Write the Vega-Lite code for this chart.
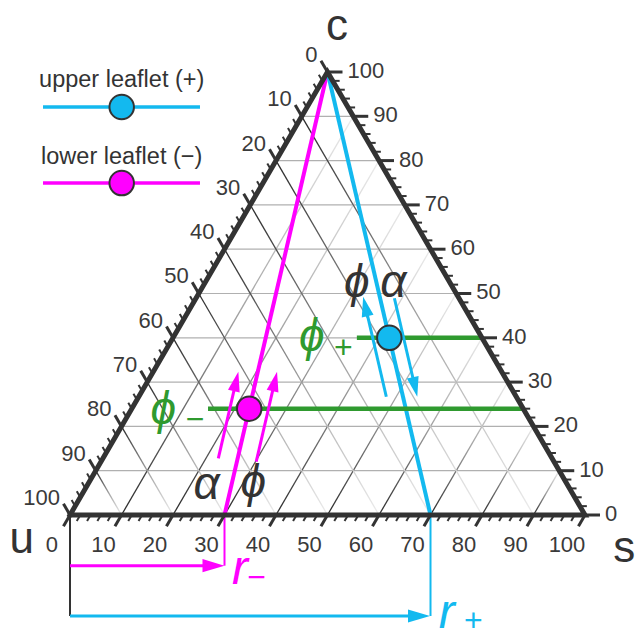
{
  "$schema": "https://vega.github.io/schema/vega-lite/v6.json",
  "width": 635,
  "height": 640,
  "padding": 0,
  "autosize": {"type": "none"},
  "background": "white",
  "config": {"view": {"stroke": null}, "font": "Liberation Sans"},
  "datasets": {
    "grid": [
      {"f":"c","s":0,"c":10,"s2":90,"c2":10},{"f":"c","s":0,"c":20,"s2":80,"c2":20},{"f":"c","s":0,"c":30,"s2":70,"c2":30},
      {"f":"c","s":0,"c":40,"s2":60,"c2":40},{"f":"c","s":0,"c":50,"s2":50,"c2":50},{"f":"c","s":0,"c":60,"s2":40,"c2":60},
      {"f":"c","s":0,"c":70,"s2":30,"c2":70},{"f":"c","s":0,"c":80,"s2":20,"c2":80},{"f":"c","s":0,"c":90,"s2":10,"c2":90},
      {"f":"s","s":10,"c":0,"s2":10,"c2":90},{"f":"s","s":20,"c":0,"s2":20,"c2":80},{"f":"s","s":30,"c":0,"s2":30,"c2":70},
      {"f":"s","s":40,"c":0,"s2":40,"c2":60},{"f":"s","s":50,"c":0,"s2":50,"c2":50},{"f":"s","s":60,"c":0,"s2":60,"c2":40},
      {"f":"s","s":70,"c":0,"s2":70,"c2":30},{"f":"s","s":80,"c":0,"s2":80,"c2":20},{"f":"s","s":90,"c":0,"s2":90,"c2":10},
      {"f":"u","s":0,"c":90,"s2":90,"c2":0},{"f":"u","s":0,"c":80,"s2":80,"c2":0},{"f":"u","s":0,"c":70,"s2":70,"c2":0},
      {"f":"u","s":0,"c":60,"s2":60,"c2":0},{"f":"u","s":0,"c":50,"s2":50,"c2":0},{"f":"u","s":0,"c":40,"s2":40,"c2":0},
      {"f":"u","s":0,"c":30,"s2":30,"c2":0},{"f":"u","s":0,"c":20,"s2":20,"c2":0},{"f":"u","s":0,"c":10,"s2":10,"c2":0}
    ],
    "tk": [
      {"v":0,"m":1},{"v":2,"m":0},{"v":4,"m":0},{"v":6,"m":0},{"v":8,"m":0},
      {"v":10,"m":1},{"v":12,"m":0},{"v":14,"m":0},{"v":16,"m":0},{"v":18,"m":0},
      {"v":20,"m":1},{"v":22,"m":0},{"v":24,"m":0},{"v":26,"m":0},{"v":28,"m":0},
      {"v":30,"m":1},{"v":32,"m":0},{"v":34,"m":0},{"v":36,"m":0},{"v":38,"m":0},
      {"v":40,"m":1},{"v":42,"m":0},{"v":44,"m":0},{"v":46,"m":0},{"v":48,"m":0},
      {"v":50,"m":1},{"v":52,"m":0},{"v":54,"m":0},{"v":56,"m":0},{"v":58,"m":0},
      {"v":60,"m":1},{"v":62,"m":0},{"v":64,"m":0},{"v":66,"m":0},{"v":68,"m":0},
      {"v":70,"m":1},{"v":72,"m":0},{"v":74,"m":0},{"v":76,"m":0},{"v":78,"m":0},
      {"v":80,"m":1},{"v":82,"m":0},{"v":84,"m":0},{"v":86,"m":0},{"v":88,"m":0},
      {"v":90,"m":1},{"v":92,"m":0},{"v":94,"m":0},{"v":96,"m":0},{"v":98,"m":0},
      {"v":100,"m":1}
    ],
    "lab": [{"v":0},{"v":10},{"v":20},{"v":30},{"v":40},{"v":50},{"v":60},{"v":70},{"v":80},{"v":90},{"v":100}],
    "lines": [
      {"leaf":"lower","s":0,"c":100,"s2":30,"c2":0},
      {"leaf":"upper","s":0,"c":100,"s2":70,"c2":0}
    ],
    "phi": [
      {"leaf":"upper","s":35.7,"c":40,"s2":60,"c2":40},
      {"leaf":"lower","s":14.8,"c":24,"s2":76,"c2":24}
    ],
    "dots": [{"leaf":"upper","s":42,"c":40},{"leaf":"lower","s":22.8,"c":24}],
    "border": [{"s":0,"c":0,"o":0},{"s":100,"c":0,"o":1},{"s":0,"c":100,"o":2},{"s":0,"c":0,"o":3}],
    "drop": [
      {"leaf":"axis","x":0,"y":0,"xe":0,"ye":-22.8},
      {"leaf":"lower","x":30,"y":0,"xe":30,"ye":-11.44},
      {"leaf":"upper","x":70,"y":0,"xe":70,"ye":-22.8}
    ],
    "rarrow": [
      {"leaf":"lower","x":0,"y":-11.44,"xe":27.86,"ye":-11.44},
      {"leaf":"upper","x":0,"y":-22.8,"xe":67.77,"ye":-22.8}
    ],
    "arrows": [
      {"leaf":"lower","dir":"up","x":28.80,"y":12.80,"xe":32.25,"ye":30.16},
      {"leaf":"lower","dir":"up","x":36.16,"y":12.03,"xe":39.77,"ye":30.16},
      {"leaf":"upper","dir":"up","x":61.42,"y":26.70,"xe":57.36,"ye":47.09},
      {"leaf":"upper","dir":"down","x":62.99,"y":48.92,"xe":66.99,"ye":28.90}
    ],
    "corner": [{"x":51.84,"y":110.16,"t":"c"},{"x":-9.38,"y":-5.64,"t":"u"},{"x":107.6,"y":-7.6,"t":"s"}],
    "greek": [{"x":55.67,"y":52.30,"t":"ϕ"},{"x":62.78,"y":52.37,"t":"α"},{"x":26.54,"y":6.77,"t":"α"},{"x":35.59,"y":7.16,"t":"ϕ"}],
    "gphi": [{"x":46.93,"y":40.25,"t":"ϕ"},{"x":18.12,"y":23.70,"t":"ϕ"}],
    "gsub": [{"x":53.07,"y":37.63,"t":"+"},{"x":24.27,"y":21.44,"t":"−"}],
    "rlab": [{"leaf":"lower","x":33.01,"y":-12.42,"t":"r"},{"leaf":"upper","x":73.15,"y":-22.4,"t":"r"}],
    "rsub": [{"leaf":"lower","x":36.25,"y":-14.22,"t":"−"},{"leaf":"upper","x":78.31,"y":-23.9,"t":"+"}],
    "legtext": [{"x":10.04,"y":98.19,"t":"upper leaflet (+)"},{"x":10.04,"y":80.81,"t":"lower leaflet (−)"}],
    "legline": [{"leaf":"upper","x":-5.24,"xe":25.24,"y":92.10},{"leaf":"lower","x":-5.24,"xe":25.24,"y":74.94}],
    "legdot": [{"leaf":"upper","x":10.04,"y":92.10},{"leaf":"lower","x":10.04,"y":74.94}]
  },
  "encoding": {
    "x": {"field": "x", "type": "quantitative", "scale": {"domain": [-13.592, 109.709], "nice": false, "zero": false}, "axis": null},
    "y": {"field": "y", "type": "quantitative", "scale": {"domain": [-28.217, 116.253], "nice": false, "zero": false}, "axis": null}
  },
  "layer": [
    {
      "data": {"name": "grid"},
      "transform": [{"filter": "datum.f == 'c'"},{"calculate": "datum.s + datum.c/2", "as": "x"},{"calculate": "datum.c", "as": "y"},{"calculate": "datum.s2 + datum.c2/2", "as": "xe"},{"calculate": "datum.c2", "as": "ye"}],
      "mark": {"type": "rule", "stroke": "#b0b0b0", "strokeWidth": 1.2},
      "encoding": {"x2": {"field": "xe"}, "y2": {"field": "ye"}}
    },
    {
      "data": {"name": "grid"},
      "transform": [{"filter": "datum.f == 's'"},{"calculate": "datum.s + datum.c/2", "as": "x"},{"calculate": "datum.c", "as": "y"},{"calculate": "datum.s2 + datum.c2/2", "as": "xe"},{"calculate": "datum.c2", "as": "ye"}],
      "mark": {"type": "rule", "strokeWidth": 1.3, "stroke": {"gradient": "linear", "x1": 0, "y1": 1, "x2": 1, "y2": 0, "stops": [{"offset": 0, "color": "#2a2a2a"}, {"offset": 0.5, "color": "#a0a0a0"}, {"offset": 1, "color": "#ececec"}]}},
      "encoding": {"x2": {"field": "xe"}, "y2": {"field": "ye"}}
    },
    {
      "data": {"name": "grid"},
      "transform": [{"filter": "datum.f == 'u'"},{"calculate": "datum.s + datum.c/2", "as": "x"},{"calculate": "datum.c", "as": "y"},{"calculate": "datum.s2 + datum.c2/2", "as": "xe"},{"calculate": "datum.c2", "as": "ye"}],
      "mark": {"type": "rule", "strokeWidth": 1.3, "stroke": {"gradient": "linear", "x1": 0, "y1": 0, "x2": 1, "y2": 1, "stops": [{"offset": 0, "color": "#2a2a2a"}, {"offset": 0.5, "color": "#a0a0a0"}, {"offset": 1, "color": "#ececec"}]}},
      "encoding": {"x2": {"field": "xe"}, "y2": {"field": "ye"}}
    },
    {
      "data": {"name": "lines"},
      "transform": [{"calculate": "datum.s + datum.c/2", "as": "x"},{"calculate": "datum.c", "as": "y"},{"calculate": "datum.s2 + datum.c2/2", "as": "xe"},{"calculate": "datum.c2", "as": "ye"}],
      "mark": {"type": "rule", "strokeWidth": 4},
      "encoding": {"x2": {"field": "xe"}, "y2": {"field": "ye"},
        "color": {"field": "leaf", "type": "nominal", "scale": {"domain": ["upper","lower","axis"], "range": ["#13b9ef","#ff00ff","#333333"]}, "legend": null}}
    },
    {
      "data": {"name": "drop"},
      "mark": {"type": "rule", "strokeWidth": 2},
      "encoding": {"x2": {"field": "xe"}, "y2": {"field": "ye"},
        "color": {"field": "leaf", "type": "nominal", "legend": null}}
    },
    {
      "data": {"name": "rarrow"},
      "mark": {"type": "rule", "strokeWidth": 3},
      "encoding": {"x2": {"field": "xe"}, "y2": {"field": "ye"},
        "color": {"field": "leaf", "type": "nominal", "legend": null}}
    },
    {
      "data": {"name": "phi"},
      "transform": [{"calculate": "datum.s + datum.c/2", "as": "x"},{"calculate": "datum.c", "as": "y"},{"calculate": "datum.s2 + datum.c2/2", "as": "xe"},{"calculate": "datum.c2", "as": "ye"}],
      "mark": {"type": "rule", "strokeWidth": 4.5, "stroke": "#2f9a2f"},
      "encoding": {"x2": {"field": "xe"}, "y2": {"field": "ye"}}
    },
    {
      "data": {"name": "border"},
      "transform": [{"calculate": "datum.s + datum.c/2", "as": "x"},{"calculate": "datum.c", "as": "y"}],
      "mark": {"type": "line", "strokeWidth": 5, "color": "#333333", "strokeJoin": "miter", "strokeCap": "square"},
      "encoding": {"order": {"field": "o", "type": "quantitative"}}
    },
    {
      "data": {"name": "tk"},
      "transform": [{"filter": "datum.m == 1"},{"calculate": "datum.v", "as": "x"},{"calculate": "0", "as": "y"}],
      "mark": {"type": "point", "shape": "M0,0L-0.503,0.864", "filled": false, "stroke": "#333333", "strokeWidth": 3, "size": 676, "opacity": 1}
    },
    {
      "data": {"name": "tk"},
      "transform": [{"filter": "datum.m == 0"},{"calculate": "datum.v", "as": "x"},{"calculate": "0", "as": "y"}],
      "mark": {"type": "point", "shape": "M0,0L-0.503,0.864", "filled": false, "stroke": "#333333", "strokeWidth": 2, "size": 196, "opacity": 1}
    },
    {
      "data": {"name": "tk"},
      "transform": [{"filter": "datum.m == 1"},{"calculate": "100 - datum.v/2", "as": "x"},{"calculate": "datum.v", "as": "y"}],
      "mark": {"type": "point", "shape": "M0,0L1,0", "filled": false, "stroke": "#333333", "strokeWidth": 3, "size": 900, "opacity": 1}
    },
    {
      "data": {"name": "tk"},
      "transform": [{"filter": "datum.m == 0"},{"calculate": "100 - datum.v/2", "as": "x"},{"calculate": "datum.v", "as": "y"}],
      "mark": {"type": "point", "shape": "M0,0L1,0", "filled": false, "stroke": "#333333", "strokeWidth": 2, "size": 196, "opacity": 1}
    },
    {
      "data": {"name": "tk"},
      "transform": [{"filter": "datum.m == 1"},{"calculate": "(100 - datum.v)/2", "as": "x"},{"calculate": "100 - datum.v", "as": "y"}],
      "mark": {"type": "point", "shape": "M0,0L-0.503,-0.864", "filled": false, "stroke": "#333333", "strokeWidth": 3, "size": 676, "opacity": 1}
    },
    {
      "data": {"name": "tk"},
      "transform": [{"filter": "datum.m == 0"},{"calculate": "(100 - datum.v)/2", "as": "x"},{"calculate": "100 - datum.v", "as": "y"}],
      "mark": {"type": "point", "shape": "M0,0L-0.503,-0.864", "filled": false, "stroke": "#333333", "strokeWidth": 2, "size": 196, "opacity": 1}
    },
    {
      "data": {"name": "lab"},
      "transform": [{"calculate": "datum.v", "as": "x"},{"calculate": "0", "as": "y"}],
      "mark": {"type": "text", "font": "Liberation Sans", "fontSize": 22, "color": "#3a3a3a", "align": "center", "baseline": "middle", "dx": -18, "dy": 30},
      "encoding": {"text": {"field": "v", "type": "quantitative"}}
    },
    {
      "data": {"name": "lab"},
      "transform": [{"calculate": "100 - datum.v/2", "as": "x"},{"calculate": "datum.v", "as": "y"}],
      "mark": {"type": "text", "font": "Liberation Sans", "fontSize": 22, "color": "#3a3a3a", "align": "left", "baseline": "middle", "dx": 20, "dy": -1},
      "encoding": {"text": {"field": "v", "type": "quantitative"}}
    },
    {
      "data": {"name": "lab"},
      "transform": [{"calculate": "(100 - datum.v)/2", "as": "x"},{"calculate": "100 - datum.v", "as": "y"}],
      "mark": {"type": "text", "font": "Liberation Sans", "fontSize": 22, "color": "#3a3a3a", "align": "right", "baseline": "middle", "dx": -10, "dy": -17},
      "encoding": {"text": {"field": "v", "type": "quantitative"}}
    },
    {
      "data": {"name": "arrows"},
      "mark": {"type": "rule", "strokeWidth": 3},
      "encoding": {"x2": {"field": "xe"}, "y2": {"field": "ye"},
        "color": {"field": "leaf", "type": "nominal", "legend": null}}
    },
    {
      "data": {"name": "arrows"},
      "transform": [{"filter": "datum.leaf == 'lower'"},{"calculate": "datum.xe", "as": "x"},{"calculate": "datum.ye", "as": "y"}],
      "mark": {"type": "point", "shape": "M0,-0.5L-0.3,0.5L0.3,0.5Z", "filled": true, "size": 1600, "angle": 13, "opacity": 1},
      "encoding": {"color": {"field": "leaf", "type": "nominal", "legend": null}}
    },
    {
      "data": {"name": "arrows"},
      "transform": [{"filter": "datum.leaf == 'upper' && datum.dir == 'up'"},{"calculate": "datum.xe", "as": "x"},{"calculate": "datum.ye", "as": "y"}],
      "mark": {"type": "point", "shape": "M0,-0.5L-0.3,0.5L0.3,0.5Z", "filled": true, "size": 1600, "angle": 347, "opacity": 1},
      "encoding": {"color": {"field": "leaf", "type": "nominal", "legend": null}}
    },
    {
      "data": {"name": "arrows"},
      "transform": [{"filter": "datum.leaf == 'upper' && datum.dir == 'down'"},{"calculate": "datum.xe", "as": "x"},{"calculate": "datum.ye", "as": "y"}],
      "mark": {"type": "point", "shape": "M0,-0.5L-0.3,0.5L0.3,0.5Z", "filled": true, "size": 1600, "angle": 167, "opacity": 1},
      "encoding": {"color": {"field": "leaf", "type": "nominal", "legend": null}}
    },
    {
      "data": {"name": "rarrow"},
      "transform": [{"calculate": "datum.xe", "as": "x"},{"calculate": "datum.ye", "as": "y"}],
      "mark": {"type": "point", "shape": "M0,-0.5L-0.3,0.5L0.3,0.5Z", "filled": true, "size": 1936, "angle": 90, "opacity": 1},
      "encoding": {"color": {"field": "leaf", "type": "nominal", "legend": null}}
    },
    {
      "data": {"name": "legline"},
      "mark": {"type": "rule", "strokeWidth": 3.5},
      "encoding": {"x2": {"field": "xe"},
        "color": {"field": "leaf", "type": "nominal", "legend": null}}
    },
    {
      "data": {"name": "dots"},
      "transform": [{"calculate": "datum.s + datum.c/2", "as": "x"},{"calculate": "datum.c", "as": "y"}],
      "mark": {"type": "point", "shape": "circle", "filled": true, "size": 600, "stroke": "#333333", "strokeWidth": 2, "opacity": 1},
      "encoding": {"color": {"field": "leaf", "type": "nominal", "legend": null}}
    },
    {
      "data": {"name": "legdot"},
      "mark": {"type": "point", "shape": "circle", "filled": true, "size": 600, "stroke": "#333333", "strokeWidth": 2, "opacity": 1},
      "encoding": {"color": {"field": "leaf", "type": "nominal", "legend": null}}
    },
    {
      "data": {"name": "legtext"},
      "mark": {"type": "text", "font": "Liberation Sans", "fontSize": 23.5, "color": "#333333", "align": "center", "baseline": "middle"},
      "encoding": {"text": {"field": "t"}}
    },
    {
      "data": {"name": "corner"},
      "mark": {"type": "text", "font": "Liberation Sans", "fontSize": 44, "color": "#333333", "align": "center", "baseline": "middle"},
      "encoding": {"text": {"field": "t"}}
    },
    {
      "data": {"name": "greek"},
      "mark": {"type": "text", "font": "Liberation Sans", "fontSize": 46, "fontStyle": "italic", "color": "#333333", "align": "center", "baseline": "middle"},
      "encoding": {"text": {"field": "t"}}
    },
    {
      "data": {"name": "gphi"},
      "mark": {"type": "text", "font": "Liberation Sans", "fontSize": 46, "fontStyle": "italic", "color": "#2f9a2f", "align": "center", "baseline": "middle"},
      "encoding": {"text": {"field": "t"}}
    },
    {
      "data": {"name": "gsub"},
      "mark": {"type": "text", "font": "Liberation Sans", "fontSize": 32, "color": "#2f9a2f", "align": "center", "baseline": "middle"},
      "encoding": {"text": {"field": "t"}}
    },
    {
      "data": {"name": "rlab"},
      "mark": {"type": "text", "font": "Liberation Sans", "fontSize": 48, "fontStyle": "italic", "align": "center", "baseline": "middle"},
      "encoding": {"text": {"field": "t"}, "color": {"field": "leaf", "type": "nominal", "legend": null}}
    },
    {
      "data": {"name": "rsub"},
      "mark": {"type": "text", "font": "Liberation Sans", "fontSize": 32, "align": "center", "baseline": "middle"},
      "encoding": {"text": {"field": "t"}, "color": {"field": "leaf", "type": "nominal", "legend": null}}
    }
  ]
}
